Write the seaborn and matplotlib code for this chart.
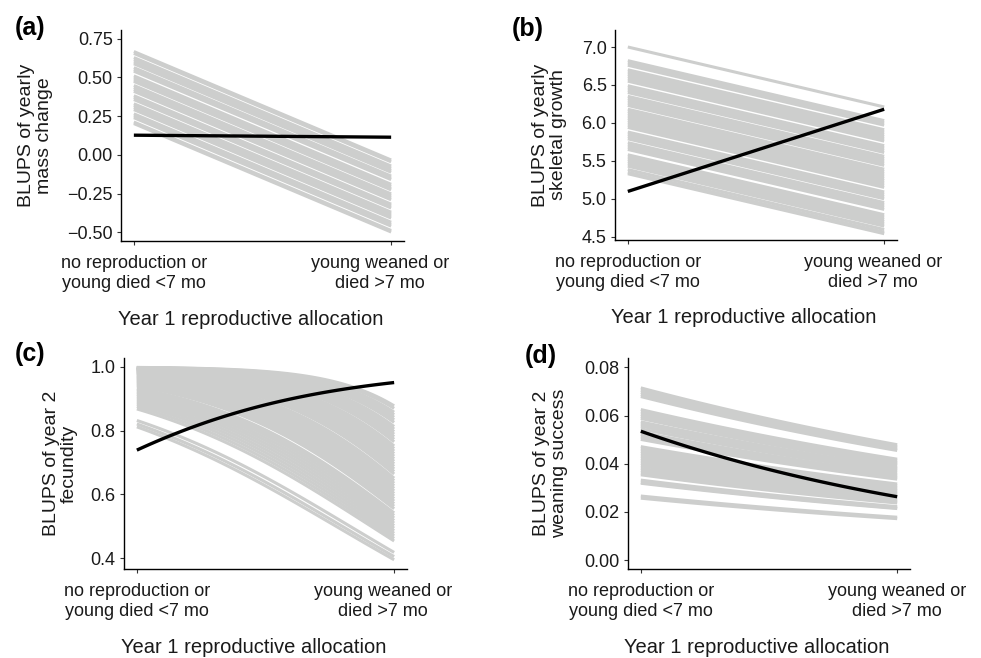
import numpy as np
import pandas as pd
import matplotlib
matplotlib.use("Agg")
import matplotlib.pyplot as plt
import matplotlib.transforms as mtransforms
import seaborn as sns

# ---------------- data ----------------
x_positions = [1, 2]
x_ticklabels = ["no reproduction or\nyoung died <7 mo", "young weaned or\ndied >7 mo"]
x_label = "Year 1 reproductive allocation"

# (a) yearly mass change: individual lines (start, end) and population line
a_start = [0.667, 0.655, 0.628, 0.614, 0.600, 0.588, 0.563, 0.550, 0.540, 0.510,
           0.497, 0.484, 0.474, 0.448, 0.435, 0.422, 0.410, 0.382, 0.370, 0.357,
           0.330, 0.318, 0.305, 0.292, 0.265, 0.252, 0.240, 0.212, 0.202]
a_end = [-0.033, -0.045, -0.072, -0.086, -0.100, -0.112, -0.137, -0.150, -0.160, -0.190,
         -0.203, -0.216, -0.226, -0.252, -0.265, -0.278, -0.290, -0.318, -0.330, -0.343,
         -0.370, -0.382, -0.395, -0.408, -0.435, -0.448, -0.460, -0.488, -0.498]
a_pop = [0.127, 0.114]
a_yticks = [0.75, 0.50, 0.25, 0.00, -0.25, -0.50]
a_yticklabels = ["0.75", "0.50", "0.25", "0.00", "\u22120.25", "\u22120.50"]

# (b) yearly skeletal growth
b_start = [7.00, 6.82, 6.79, 6.76, 6.70, 6.67, 6.64, 6.61, 6.58, 6.55,
           6.49, 6.46, 6.43, 6.40, 6.35, 6.32, 6.29, 6.26, 6.23, 6.18,
           6.15, 6.12, 6.09, 6.06, 6.03, 6.00, 5.97, 5.94, 5.88, 5.85,
           5.82, 5.79, 5.74, 5.71, 5.68, 5.65, 5.58, 5.55, 5.52, 5.49,
           5.46, 5.43, 5.385, 5.35, 5.33]
b_end = [6.21, 6.03, 6.00, 5.97, 5.91, 5.88, 5.85, 5.82, 5.79, 5.76,
         5.70, 5.67, 5.64, 5.61, 5.56, 5.53, 5.50, 5.47, 5.44, 5.39,
         5.36, 5.33, 5.30, 5.27, 5.24, 5.21, 5.18, 5.15, 5.09, 5.06,
         5.03, 5.00, 4.95, 4.92, 4.89, 4.86, 4.79, 4.76, 4.73, 4.70,
         4.67, 4.64, 4.595, 4.56, 4.54]
b_pop = [5.097, 6.180]
b_yticks = [7.0, 6.5, 6.0, 5.5, 5.0, 4.5]
b_yticklabels = ["7.0", "6.5", "6.0", "5.5", "5.0", "4.5"]

# (c) year 2 fecundity (logistic curves)
c_start = [0.9985, 0.9982, 0.9978, 0.9975, 0.9971, 0.9968, 0.9963, 0.9956, 0.9951, 0.9945,
           0.9939, 0.9933, 0.9926, 0.9918, 0.9905, 0.9897, 0.9887, 0.9877, 0.9866, 0.9854,
           0.9842, 0.9828, 0.9815, 0.9800, 0.9784, 0.9767, 0.9737, 0.9717, 0.9696, 0.9674,
           0.9649, 0.9625, 0.9598, 0.9569, 0.9539, 0.9507, 0.9473, 0.9437, 0.9399, 0.9331,
           0.9289, 0.9243, 0.9193, 0.9140, 0.9085, 0.9027, 0.8964, 0.8899, 0.8831, 0.8758,
           0.8682, 0.832, 0.821, 0.812]
c_end = [0.878, 0.870, 0.858, 0.850, 0.842, 0.834, 0.826, 0.813, 0.805, 0.797,
         0.789, 0.781, 0.773, 0.765, 0.752, 0.744, 0.736, 0.728, 0.720, 0.712,
         0.704, 0.696, 0.688, 0.680, 0.672, 0.664, 0.651, 0.643, 0.635, 0.627,
         0.619, 0.611, 0.603, 0.595, 0.587, 0.579, 0.571, 0.563, 0.555, 0.542,
         0.534, 0.526, 0.518, 0.510, 0.502, 0.494, 0.486, 0.478, 0.470, 0.462,
         0.454, 0.418, 0.405, 0.395]
c_pop = [0.739, 0.951]
c_yticks = [1.0, 0.8, 0.6, 0.4]
c_yticklabels = ["1.0", "0.8", "0.6", "0.4"]

# (d) year 2 weaning success (logistic curves)
d_start = [0.0715, 0.0705, 0.0696, 0.0687, 0.0679,
           0.0625, 0.0615, 0.0605, 0.0596, 0.0588, 0.0574, 0.0565, 0.0556, 0.0545,
           0.0531, 0.0521, 0.0511, 0.0501,
           0.0471, 0.0461, 0.0451, 0.0441, 0.0431, 0.0421, 0.0411, 0.0401, 0.0391,
           0.0381, 0.0371, 0.0361, 0.0354,
           0.0332, 0.0322, 0.0319,
           0.0266, 0.0257]
d_end = [0.0479, 0.0472, 0.0466, 0.0460, 0.0455,
         0.0419, 0.0412, 0.0405, 0.0399, 0.0394, 0.0385, 0.0379, 0.0373, 0.0365,
         0.0356, 0.0349, 0.0342, 0.0336,
         0.0316, 0.0309, 0.0302, 0.0295, 0.0289, 0.0282, 0.0275, 0.0269, 0.0262,
         0.0255, 0.0249, 0.0242, 0.0237,
         0.0222, 0.0216, 0.0214,
         0.0178, 0.0172]
d_pop = [0.0535, 0.0263]
d_yticks = [0.08, 0.06, 0.04, 0.02, 0.00]
d_yticklabels = ["0.08", "0.06", "0.04", "0.02", "0.00"]

# ---------------- drawing ----------------
sns.set_style("ticks")
plt.rcParams['font.family'] = ['Liberation Sans', 'DejaVu Sans']

W, H = 981, 658
DPI = 100
GRAY = "#CDCECD"
TXT = "#1a1a1a"

fig = plt.figure(figsize=(W / DPI, H / DPI), dpi=DPI)


def logit(p):
    p = np.asarray(p, dtype=float)
    return np.log(p / (1 - p))


def build(starts, ends, link):
    frames = []
    xs = np.array([1.0, 2.0]) if link == "identity" else np.linspace(1, 2, 60)
    for i, (s, e) in enumerate(zip(starts, ends)):
        if link == "identity":
            ys = s + (e - s) * (xs - 1)
        else:
            ls, le = logit(s), logit(e)
            ys = 1 / (1 + np.exp(-(ls + (le - ls) * (xs - 1))))
        frames.append(pd.DataFrame({"x": xs, "y": ys, "line": i}))
    return pd.concat(frames, ignore_index=True)


panels = [
    dict(tag="(a)", tagpos=(15, 16), rect=(121, 30, 404, 241), ylim=(-0.556, 0.806),
         start=a_start, end=a_end, pop=a_pop, link="identity",
         yticks=a_yticks, ylabs=a_yticklabels,
         ylabel="BLUPS of yearly\nmass change", ylx=-0.240, shift=-11),
    dict(tag="(b)", tagpos=(512, 17), rect=(615, 30, 897, 240), ylim=(4.457, 7.224),
         start=b_start, end=b_end, pop=b_pop, link="identity",
         yticks=b_yticks, ylabs=b_yticklabels,
         ylabel="BLUPS of yearly\nskeletal growth", ylx=-0.170, shift=-11),
    dict(tag="(c)", tagpos=(15, 342), rect=(124, 358, 407, 569), ylim=(0.366, 1.028),
         start=c_start, end=c_end, pop=c_pop, link="logit",
         yticks=c_yticks, ylabs=c_yticklabels,
         ylabel="BLUPS of year 2\nfecundity", ylx=-0.163, shift=-11),
    dict(tag="(d)", tagpos=(525, 344), rect=(628, 358, 910, 569), ylim=(-0.0037, 0.0839),
         start=d_start, end=d_end, pop=d_pop, link="logit",
         yticks=d_yticks, ylabs=d_yticklabels,
         ylabel="BLUPS of year 2\nweaning success", ylx=-0.213, shift=0),
]

for p in panels:
    l, t, r, b = p["rect"]
    ax = fig.add_axes([l / W, 1 - b / H, (r - l) / W, (b - t) / H])
    df = build(p["start"], p["end"], p["link"])
    sns.lineplot(data=df, x="x", y="y", units="line", estimator=None, sort=False,
                 color=GRAY, lw=2.2, ax=ax, legend=False)
    dpop = build([p["pop"][0]], [p["pop"][1]], p["link"])
    sns.lineplot(data=dpop, x="x", y="y", units="line", estimator=None, sort=False,
                 color="black", lw=2.4, ax=ax, legend=False)
    for ln in ax.lines:
        ln.set_solid_capstyle("butt")

    ax.set_xlim(0.95, 2.05)
    ax.set_ylim(*p["ylim"])
    ax.set_xticks(x_positions)
    ax.set_xticklabels(x_ticklabels, linespacing=1.25)
    ax.set_yticks(p["yticks"])
    ax.set_yticklabels(p["ylabs"])
    ax.tick_params(length=3, width=0.8, color="#333333", labelsize=13,
                   labelcolor=TXT)
    ax.tick_params(axis="x", pad=7)
    ax.tick_params(axis="y", pad=3)
    for side in ["top", "right"]:
        ax.spines[side].set_visible(False)
    for side in ["left", "bottom"]:
        ax.spines[side].set_linewidth(1.0)
        ax.spines[side].set_color("black")

    ax.set_xlabel(x_label, fontsize=14.5, color=TXT)
    ax.xaxis.set_label_coords(0.457, -0.325)
    ax.set_ylabel(p["ylabel"], fontsize=14, color=TXT, linespacing=1.05)
    ax.yaxis.set_label_coords(p["ylx"], 0.5)

    if p["shift"]:
        off = mtransforms.ScaledTranslation(p["shift"] / DPI, 0, fig.dpi_scale_trans)
        lab = ax.get_xticklabels()[1]
        lab.set_transform(lab.get_transform() + off)

    fig.text(p["tagpos"][0] / W, 1 - p["tagpos"][1] / H, p["tag"], fontsize=18,
             fontweight="bold", ha="left", va="top", color="black")

fig.savefig("out.png", dpi=DPI)
